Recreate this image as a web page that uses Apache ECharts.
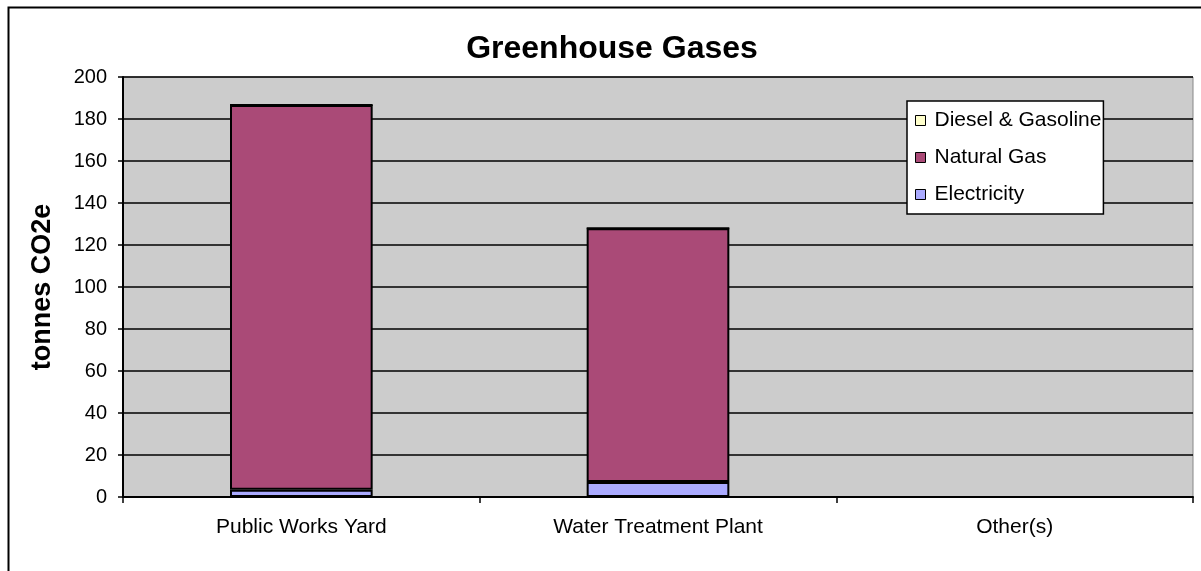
<!DOCTYPE html>
<html>
<head>
<meta charset="utf-8">
<script src="https://cdn.jsdelivr.net/npm/echarts@6/dist/echarts.min.js"></script>
<style>
  html, body { margin: 0; padding: 0; background: #fff; }
  #chart { width: 1201px; height: 571px; }
</style>
</head>
<body>
<div id="chart"></div>
<script>
// sites along the x axis
const categories = ['Public Works Yard', 'Water Treatment Plant', 'Other(s)']
// tonnes CO2e per source, stacked bottom to top
const electricity = [3.4, 7.2, 0]
const naturalGas = [183.3, 120.8, 0]
const dieselGasoline = [0, 0, 0]
const legendOrder = ['Diesel & Gasoline', 'Natural Gas', 'Electricity']

const font = 'Liberation Sans, Arial, sans-serif'

const chart = echarts.init(document.getElementById('chart'))

function barSeries(name, data, color) {
  return {
    name: name,
    type: 'bar',
    stack: 'total',
    data: data,
    barWidth: '40%',
    itemStyle: {
      color: color,
      borderColor: '#000',
      borderWidth: 2
    },
    animation: false
  }
}

chart.setOption({
  animation: false,
  textStyle: { fontFamily: font },
  title: {
    text: 'Greenhouse Gases',
    left: 607,
    textAlign: 'center',
    top: 28,
    textStyle: { fontSize: 32, fontWeight: 'bold', color: '#000', fontFamily: font }
  },
  graphic: [{
    type: 'rect',
    left: 6,
    top: 5,
    shape: { width: 1220, height: 620 },
    style: { fill: null, stroke: '#000', lineWidth: 2 },
    silent: true
  }],
  grid: {
    left: 123,
    right: 8,
    top: 77,
    bottom: 74,
    show: true,
    backgroundColor: '#cccccc',
    borderColor: '#888',
    borderWidth: 1,
    containLabel: false
  },
  legend: {
    data: legendOrder,
    orient: 'vertical',
    left: 907,
    top: 101,
    padding: [9, 2, 9, 8],
    itemGap: 16,
    itemWidth: 10,
    itemHeight: 10,
    backgroundColor: '#fff',
    borderColor: '#000',
    borderWidth: 1.5,
    icon: 'rect',
    itemStyle: { borderColor: '#000', borderWidth: 1 },
    textStyle: { fontSize: 21, color: '#000', fontFamily: font, padding: [0, 0, 0, 4] }
  },
  xAxis: {
    type: 'category',
    data: categories,
    axisLine: { lineStyle: { color: '#000', width: 2 } },
    axisTick: { show: true, alignWithLabel: false, length: 6, lineStyle: { color: '#000', width: 1.5 } },
    axisLabel: { margin: 20, fontSize: 21, color: '#000', fontFamily: font },
    splitLine: { show: false }
  },
  yAxis: {
    type: 'value',
    min: 0,
    max: 200,
    interval: 20,
    name: 'tonnes CO2e',
    nameLocation: 'middle',
    nameGap: 67,
    nameTextStyle: { fontSize: 27, fontWeight: 'bold', color: '#000', fontFamily: font },
    axisLine: { show: true, lineStyle: { color: '#000', width: 2 } },
    axisTick: { show: true, length: 5, lineStyle: { color: '#000', width: 1.5 } },
    axisLabel: { margin: 16, fontSize: 20, color: '#000', fontFamily: font },
    splitLine: { show: true, lineStyle: { color: '#000', width: 1.5 } }
  },
  series: [
    barSeries('Electricity', electricity, '#aaaaff'),
    barSeries('Natural Gas', naturalGas, '#aa4a77'),
    barSeries('Diesel & Gasoline', dieselGasoline, '#ffffcc')
  ]
})
</script>
</body>
</html>
